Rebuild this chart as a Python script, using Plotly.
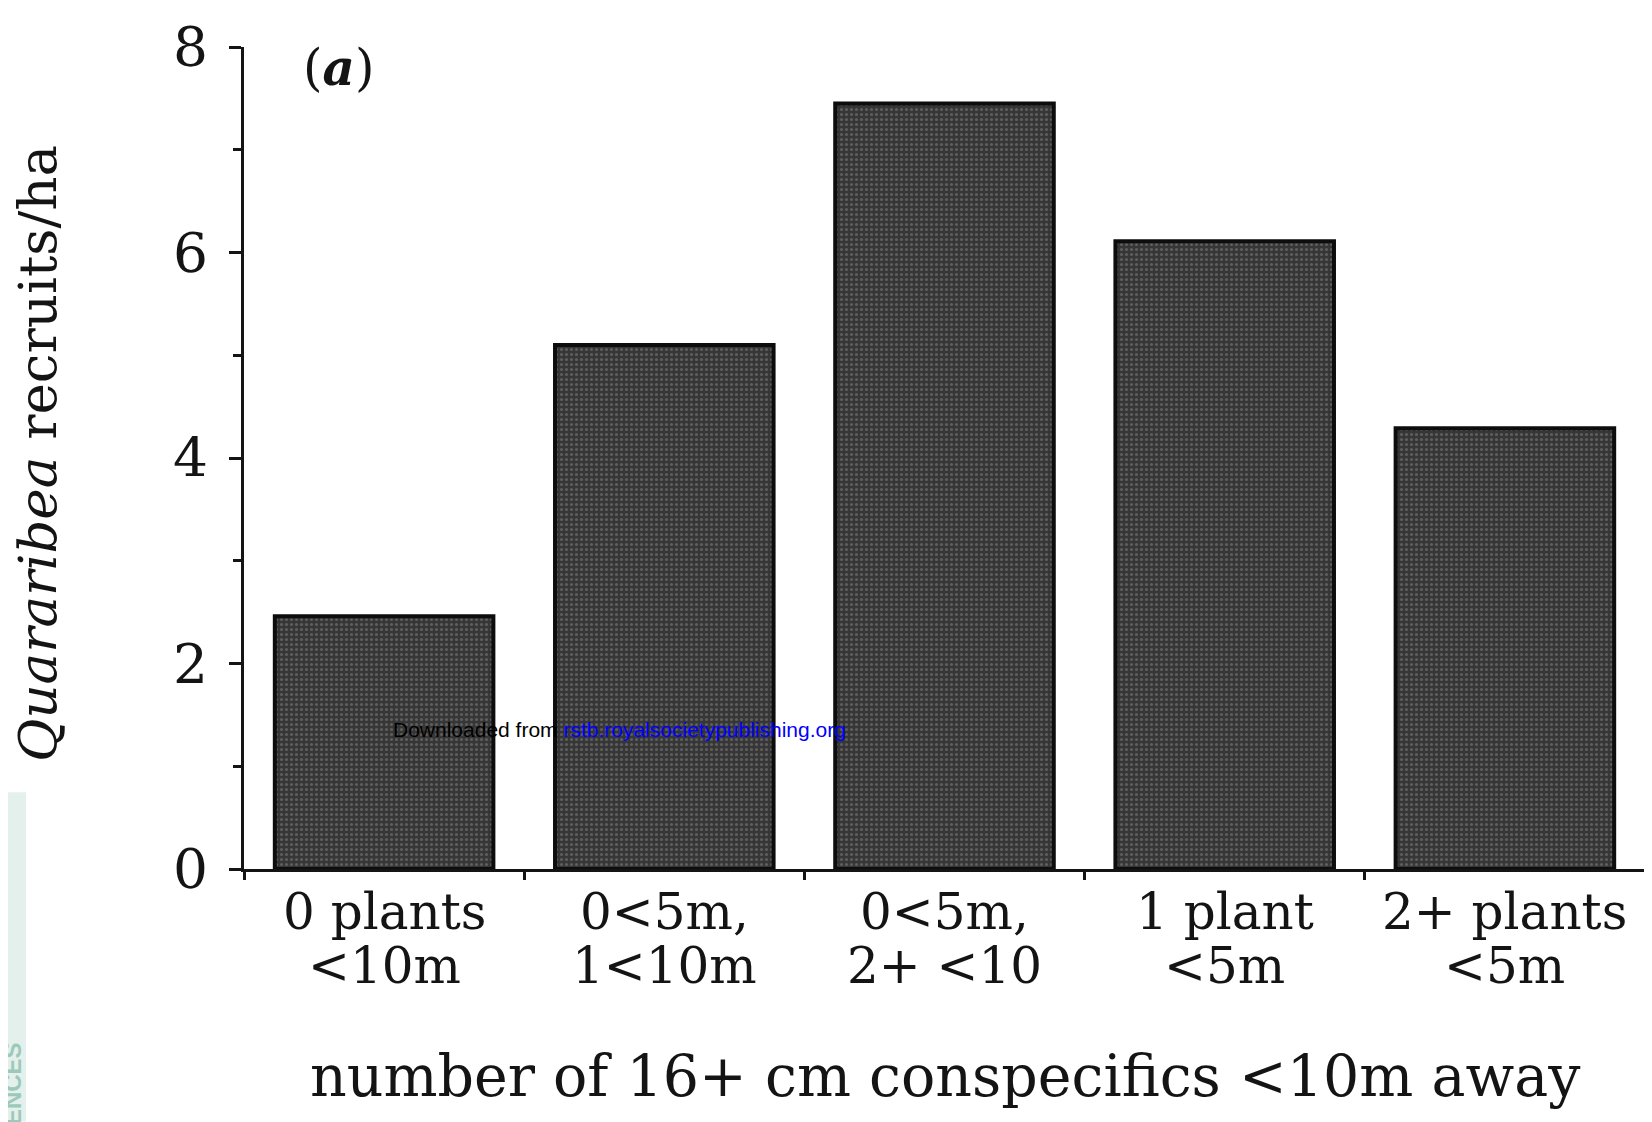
import plotly.graph_objects as go

categories = ["0 plants <10m", "0<5m, 1<10m", "0<5m, 2+ <10", "1 plant <5m", "2+ plants <5m"]
label_line1 = ["0 plants", "0<5m,", "0<5m,", "1 plant", "2+ plants"]
label_line2 = ["<10m", "1<10m", "2+ <10", "<5m", "<5m"]
recruits = [2.46, 5.10, 7.45, 6.11, 4.29]
y_ticks = [0, 2, 4, 6, 8]

SERIF = "DejaVu Serif, Liberation Serif, serif"
INK = "#141414"

# plot area in page pixels (page has an 8px body margin)
PL, PR, PT, PB = 244, 1645, 45, 869
OFF = 8
FIG_W, FIG_H = 1652 - OFF, 1122 - OFF


def px(pix):
    return (pix - PL) / (PR - PL)


def py(pix):
    return (PB - pix) / (PB - PT)


fig = go.Figure()
fig.add_trace(go.Bar(
    x=categories, y=recruits,
    marker=dict(
        color="#3a3a3a",
        line=dict(color="#0d0d0d", width=4),
        pattern=dict(shape=".", bgcolor="#363636", fgcolor="#5e5e5e",
                     size=5, solidity=0.3, fillmode="replace"),
    ),
    width=0.78,
    hoverinfo="skip",
))

annotations = []
for c, l1, l2 in zip(categories, label_line1, label_line2):
    annotations.append(dict(x=c, xref="x", y=py(912), yref="paper", text=l1, showarrow=False,
                            font=dict(family=SERIF, size=50, color=INK),
                            xanchor="center", yanchor="middle"))
    annotations.append(dict(x=c, xref="x", y=py(966), yref="paper", text=l2, showarrow=False,
                            font=dict(family=SERIF, size=50, color=INK),
                            xanchor="center", yanchor="middle"))

annotations += [
    dict(x=px(338), xref="paper", y=py(66), yref="paper",
         text="(<i><b>a</b></i>)", showarrow=False,
         font=dict(family=SERIF, size=50, color=INK), xanchor="center", yanchor="middle"),
    dict(x=px(37), xref="paper", y=py(453), yref="paper",
         text="<i>Quararibea</i> recruits/ha", textangle=-90, showarrow=False,
         font=dict(family=SERIF, size=53, color=INK), xanchor="center", yanchor="middle"),
    dict(x=px(945), xref="paper", y=py(1077), yref="paper",
         text="number of 16+ cm conspecifics <10m away", showarrow=False,
         font=dict(family=SERIF, size=57, color=INK), xanchor="center", yanchor="middle"),
    dict(x=px(391), xref="paper", y=py(729), yref="paper",
         text="Downloaded from <span style='color:#0000ff'>rstb.royalsocietypublishing.org</span>",
         showarrow=False, font=dict(family="Liberation Sans, Arial, sans-serif", size=21, color="#000"),
         xanchor="left", yanchor="middle"),
    dict(x=px(12), xref="paper", y=py(1040), yref="paper",
         text="<b>SCIENCES</b>", textangle=-90, showarrow=False,
         font=dict(family="Liberation Sans, Arial, sans-serif", size=24, color="#9cc9bb"),
         xanchor="center", yanchor="top"),
]

fig.update_layout(
    width=FIG_W, height=FIG_H,
    margin=dict(l=PL - OFF, r=FIG_W - (PR - OFF), t=PT - OFF, b=FIG_H - (PB - OFF)),
    paper_bgcolor="white", plot_bgcolor="white",
    showlegend=False,
    annotations=annotations,
    shapes=[dict(type="rect", xref="paper", yref="paper",
                 x0=px(0), x1=px(26), y0=py(1122), y1=py(792),
                 fillcolor="#e3f0ec", line=dict(width=0), layer="below")],
    xaxis=dict(
        type="category", range=[-0.5, 4.5],
        showline=True, linecolor=INK, linewidth=3,
        ticks="outside", tickson="boundaries", ticklen=8, tickwidth=2.5, tickcolor=INK,
        showticklabels=False, showgrid=False, zeroline=False,
    ),
    yaxis=dict(
        range=[0, 8], tickvals=y_ticks, ticktext=[str(v) for v in y_ticks],
        showline=True, linecolor=INK, linewidth=3,
        ticks="outside", ticklen=12, tickwidth=3, tickcolor=INK,
        minor=dict(dtick=1, ticks="outside", ticklen=8, tickwidth=2.5, tickcolor=INK),
        tickfont=dict(family=SERIF, size=55, color=INK),
        ticklabelstandoff=10,
        showgrid=False, zeroline=False,
    ),
)

fig.write_html("out.html")
